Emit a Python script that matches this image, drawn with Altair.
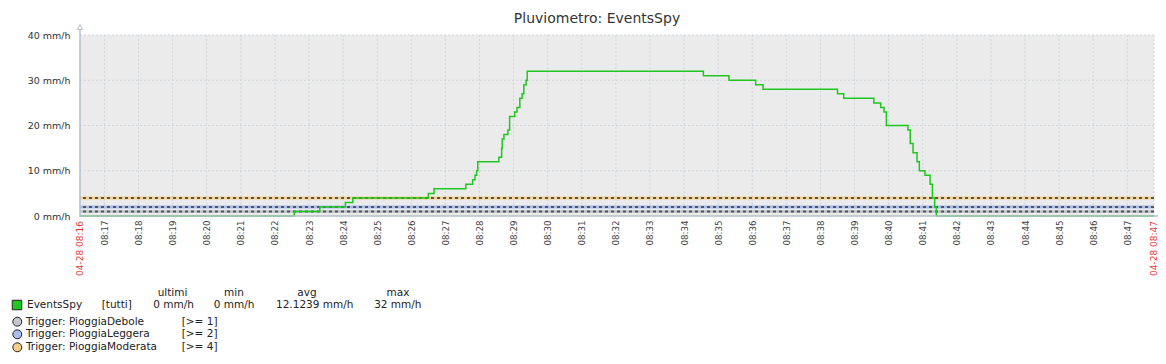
import altair as alt
import pandas as pd

# ---------------- data ----------------
DAY = "2024-04-28"
times = ["08:16:17", "08:22:34", "08:23:19", "08:24:04", "08:24:17", "08:26:30", "08:26:40",
         "08:27:36", "08:27:48", "08:27:52", "08:27:55", "08:27:57", "08:28:34", "08:28:39",
         "08:28:40", "08:28:43", "08:28:50", "08:28:53", "08:29:02", "08:29:06", "08:29:11",
         "08:29:15", "08:29:18", "08:29:22", "08:29:24", "08:34:34", "08:35:19", "08:36:06",
         "08:36:19", "08:38:30", "08:38:41", "08:39:34", "08:39:46", "08:39:52", "08:39:56",
         "08:40:34", "08:40:38", "08:40:43", "08:40:50", "08:40:54", "08:41:04", "08:41:13",
         "08:41:17", "08:41:21", "08:41:24", "08:47:47"]
values = [0, 1, 2, 3, 4, 5, 6, 7, 8, 9, 10, 12, 13, 15, 17, 18, 19, 22, 23, 24, 26, 27, 29, 30, 32,
          31, 30, 29, 28, 27, 26, 25, 24, 23, 20, 19, 16, 14, 12, 10, 9, 7, 4, 2, 0, 0]

range_start = "08:16:17"
range_end = "08:47:47"
edge_labels = ["04-28 08:16", "04-28 08:47"]
minute_ticks = ["08:17", "08:18", "08:19", "08:20", "08:21", "08:22", "08:23", "08:24", "08:25",
                "08:26", "08:27", "08:28", "08:29", "08:30", "08:31", "08:32", "08:33", "08:34",
                "08:35", "08:36", "08:37", "08:38", "08:39", "08:40", "08:41", "08:42", "08:43",
                "08:44", "08:45", "08:46", "08:47"]
y_ticks = [0, 10, 20, 30, 40]

title_text = "Pluviometro: EventsSpy"
series_name = "EventsSpy"
series_scope = "[tutti]"
stat_headers = ["ultimi", "min", "avg", "max"]
stat_values = ["0 mm/h", "0 mm/h", "12.1239 mm/h", "32 mm/h"]

trigger_names = ["Trigger: PioggiaDebole", "Trigger: PioggiaLeggera", "Trigger: PioggiaModerata"]
trigger_conds = ["[>= 1]", "[>= 2]", "[>= 4]"]
trigger_levels = [1, 2, 4]

# ---------------- style ----------------
FONT = "DejaVu Sans"
W, H = 1074, 181
LINE_GREEN = "#1ec81e"
TRIGGER_COLORS = ["#c2c8ce", "#a8bcf0", "#f6cf8a"]
GRID = "#cdd6dc"
AXIS = "#b4c0c8"


def iso(t):
    return f"{DAY}T{t}Z"


def dt(t):
    h, m, s = (int(p) for p in t.split(":"))
    return alt.DateTime(year=2024, month=4, date=28, hours=h, minutes=m, seconds=s, utc=True)


xscale = alt.Scale(type="utc", domain=[dt(range_start), dt(range_end)])
yscale = alt.Scale(domain=[0, 40], nice=False)

xaxis = alt.Axis(values=[dt(m + ":00") for m in minute_ticks],
                 labelExpr="utcFormat(datum.value, '%H:%M')",
                 labelAngle=270, labelFont=FONT, labelFontSize=8.7, labelColor="#444444",
                 ticks=False, domain=False, grid=False, labelPadding=4,
                 labelOverlap=False, labelFlush=False, labelBound=False)
yaxis = alt.Axis(values=y_ticks, labelExpr="datum.value + ' mm/h'",
                 labelFont=FONT, labelFontSize=9.5, labelColor="#333333",
                 ticks=False, tickSize=0, domain=False, grid=False, labelPadding=10)


def X():
    return alt.X("time:T", scale=xscale, axis=xaxis, title=None)


def Y():
    return alt.Y("value:Q", scale=yscale, axis=yaxis, title=None)


df = pd.DataFrame({"time": [iso(t) for t in times], "value": values})

# vertical grid (each minute + right edge)
grid_v = alt.Chart(pd.DataFrame({"time": [iso(m + ":00") for m in minute_ticks] + [iso(range_end)]})).mark_rule(
    color=GRID, strokeDash=[2, 2], strokeWidth=1
).encode(x=X())

grid_h = alt.Chart(pd.DataFrame({"value": y_ticks[1:]})).mark_rule(
    color=GRID, strokeDash=[2, 2], strokeWidth=1
).encode(y=Y())

trig_df = pd.DataFrame({"value": trigger_levels, "c": TRIGGER_COLORS})
trig_band = alt.Chart(trig_df).mark_rule(strokeWidth=3).encode(
    y=Y(), color=alt.Color("c:N", scale=None)
)
trig_dash = alt.Chart(trig_df).mark_rule(strokeWidth=2, color="#555555", strokeDash=[3, 3]).encode(y=Y())

line = alt.Chart(df).mark_line(interpolate="step-after", color=LINE_GREEN, strokeWidth=1.5).encode(
    x=X(), y=Y()
)

edge = alt.Chart(pd.DataFrame({"time": [iso(range_start), iso(range_end)], "label": edge_labels})).mark_text(
    angle=270, align="right", baseline="middle", font=FONT, fontSize=9, color="#e53935"
).encode(x=X(), y=alt.value(H + 5), text="label:N")

# axis lines with arrows
axis_left = alt.Chart(pd.DataFrame({"time": [iso(range_start)]})).mark_rule(color=AXIS, strokeWidth=1.5).encode(
    x=X(), y=alt.value(-7), y2=alt.value(H + 1)
)
axis_bottom = alt.Chart(pd.DataFrame({"value": [0]})).mark_rule(color=AXIS, strokeWidth=1.5).encode(
    y=Y(), x=alt.value(0), x2=alt.value(W + 7)
)
arrow_up = alt.Chart(pd.DataFrame({"time": [iso(range_start)], "value": [40]})).mark_point(
    shape="triangle-up", filled=True, fill="white", stroke=AXIS, strokeWidth=1, size=30, opacity=1
).encode(x=X(), y=Y(), yOffset=alt.value(-8))
arrow_right = alt.Chart(pd.DataFrame({"time": [iso(range_end)], "value": [0]})).mark_point(
    shape="triangle-right", filled=True, fill="white", stroke=AXIS, strokeWidth=1, size=30, opacity=1
).encode(x=X(), y=Y(), xOffset=alt.value(8))


def txt(text, x, y, align="left", size=10.5, color="#222222"):
    return alt.Chart(pd.DataFrame({"t": [text]})).mark_text(
        align=align, baseline="middle", font=FONT, fontSize=size, color=color
    ).encode(x=alt.value(x), y=alt.value(y), text="t:N")


layers = [grid_v, grid_h, trig_band, trig_dash, line, axis_left, axis_bottom, arrow_up, arrow_right, edge]

# title
layers.append(txt(title_text, 517, -16, align="center", size=14, color="#333333"))

# legend: headers and series row
header_x = [92.5, 154, 227, 318]
value_x = [93.5, 154, 234.7, 317.8]
for h, hx in zip(stat_headers, header_x):
    layers.append(txt(h, hx, 257.5, align="center"))
for v, vx in zip(stat_values, value_x):
    layers.append(txt(v, vx, 270, align="center"))
layers.append(txt(series_name, -53, 270))
layers.append(txt(series_scope, 21.7, 270))
layers.append(
    alt.Chart(pd.DataFrame({"c": [LINE_GREEN]})).mark_square(size=90, opacity=1, stroke="#222222", strokeWidth=1)
    .encode(x=alt.value(-63), y=alt.value(270), fill=alt.Fill("c:N", scale=None))
)

trig_y = [286.7, 299.3, 312.3]
for name, cond, col, ty in zip(trigger_names, trigger_conds, TRIGGER_COLORS, trig_y):
    layers.append(
        alt.Chart(pd.DataFrame({"c": [col]})).mark_circle(size=80, opacity=1, stroke="#222222", strokeWidth=1)
        .encode(x=alt.value(-62.7), y=alt.value(ty), fill=alt.Fill("c:N", scale=None))
    )
    layers.append(txt(name, -54, ty))
    layers.append(txt(cond, 101.7, ty))

chart = alt.layer(*layers).properties(
    width=W, height=H,
    autosize=alt.AutoSizeParams(type="none"),
    padding={"left": 72, "top": 27, "right": 4, "bottom": 148},
    background="white",
).configure_view(stroke=None, fill="#ebebeb")

chart.save("out.html", embed_options={"renderer": "svg", "actions": False})
